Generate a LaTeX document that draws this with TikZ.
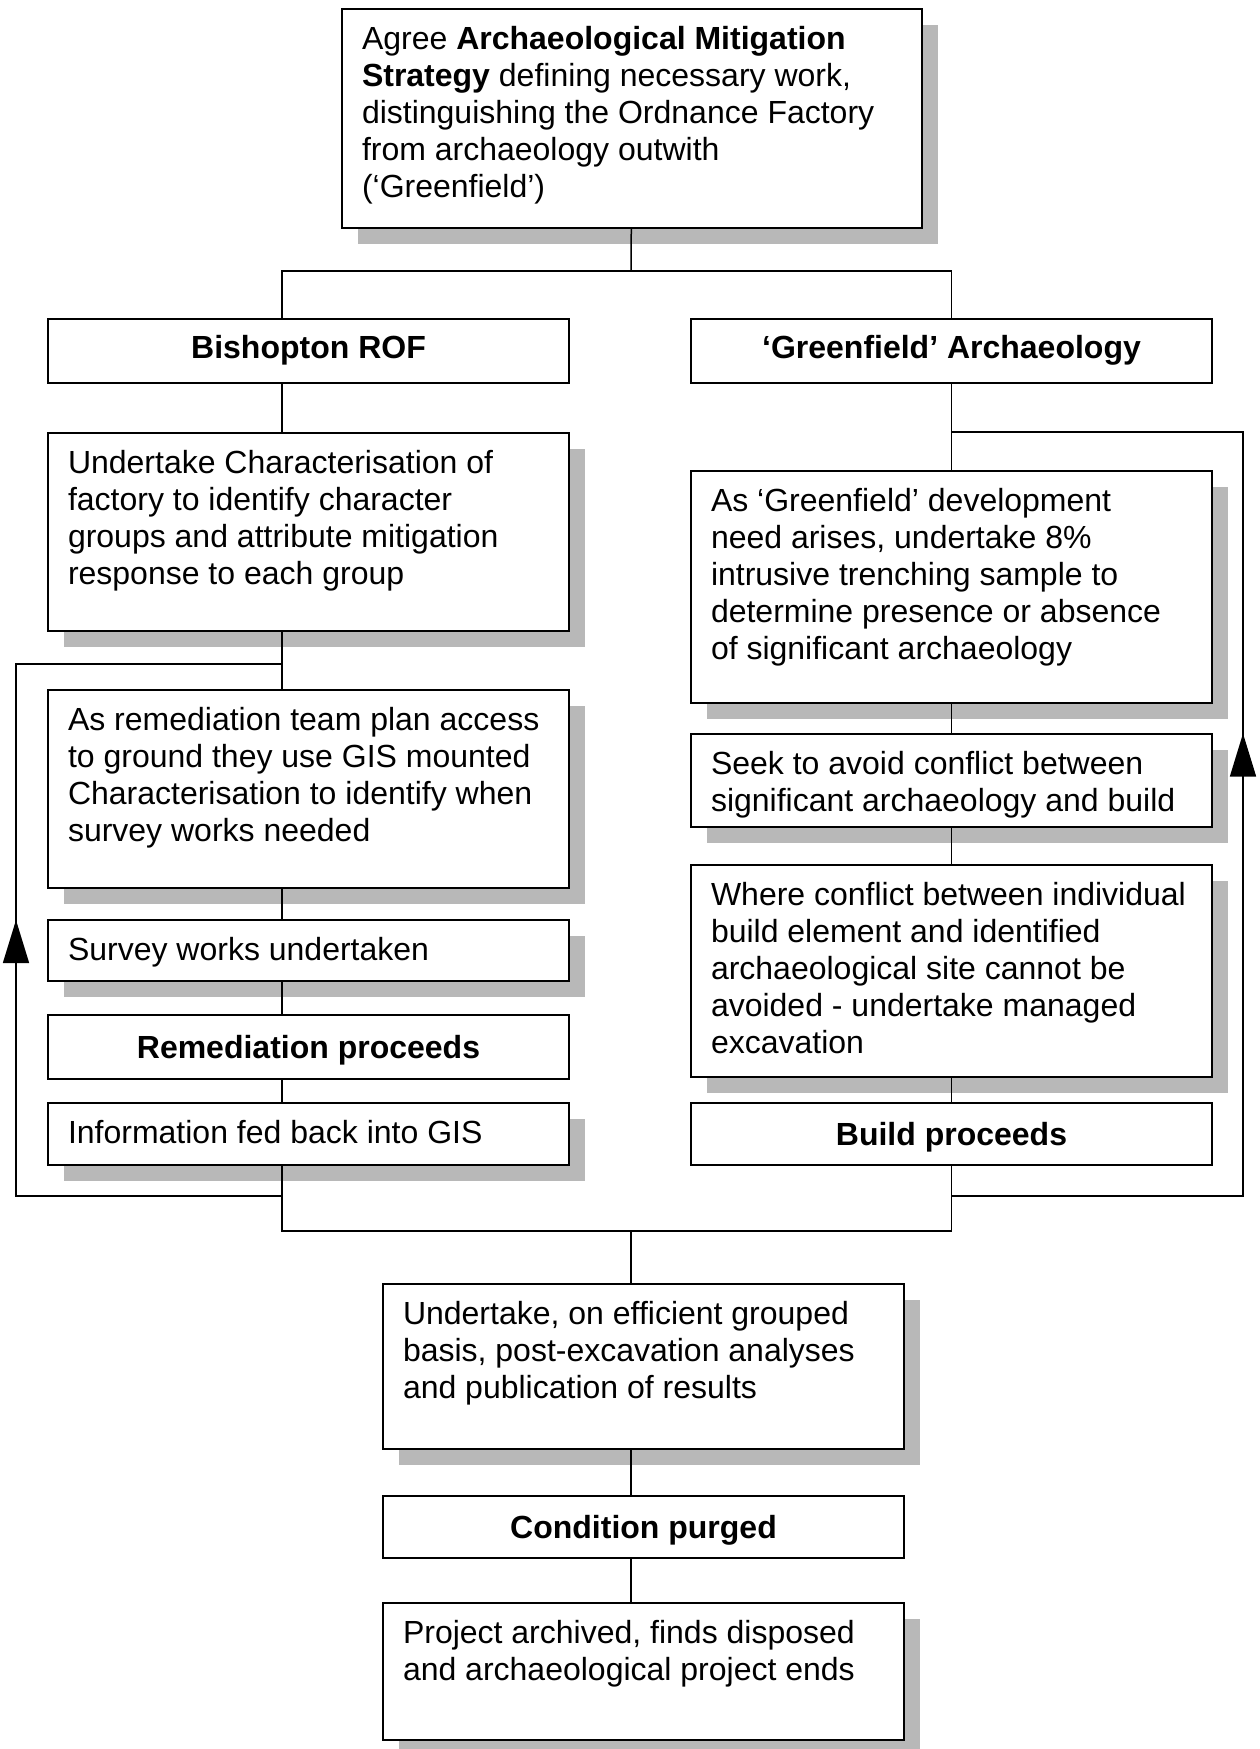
\documentclass[tikz,border=0pt]{standalone}
\usepackage{fontspec}
\setmainfont{Liberation Sans}
\usepackage{tikz}
\usetikzlibrary{arrows.meta,shadows,decorations.markings}

% top aligned text in a box of fixed height
\newcommand{\boxtext}[3][481pt]{%
  \parbox[t][\dimexpr#2pt-30pt\relax][t]{#1}{\begin{tabular}[t]{@{}l@{}}#3\end{tabular}}}

\begin{document}
\begin{tikzpicture}[
    x=1pt, y=-1pt,
    stepbox/.style={draw, line width=2pt, fill=white, anchor=north west,
              inner xsep=20pt, inner ysep=15pt,
              font=\fontsize{32}{37}\selectfont,
              drop shadow={shadow xshift=16pt, shadow yshift=-16pt,
                           fill=black!28, opacity=1}},
    headbox/.style={draw, line width=2pt, fill=white, anchor=north west,
              minimum width=521pt, minimum height=#1, inner sep=0pt,
              text height=23pt, text depth=0pt,
              font=\bfseries\fontsize{32}{37}\selectfont},
    headbox/.default=62pt,
    conn/.style={line width=1.5pt},
    uptip/.style={postaction={decorate}, decoration={markings,
              mark=at position #1 with {\arrow{Triangle[length=43pt,width=26pt]}}}}
]
\useasboundingbox (0,0) rectangle (1260,1749);

% strategy
\node[stepbox] (top) at (341,8) {\boxtext[540pt]{219}{Agree \textbf{Archaeological Mitigation}\\
  \textbf{Strategy} defining necessary work,\\ distinguishing the Ordnance Factory\\
  from archaeology outwith\\ (`Greenfield')}};

\node[headbox=64pt, text depth=9pt] (rof) at (47,318) {Bishopton ROF};
\node[headbox=64pt, text depth=9pt] (green) at (690,318) {`Greenfield' Archaeology};

% factory side
\node[stepbox] (char) at (47,432) {\boxtext{198}{Undertake Characterisation of\\
  factory to identify character\\ groups and attribute mitigation\\ response to each group}};
\node[stepbox] (remed) at (47,689) {\boxtext{198}{As remediation team plan access\\
  to ground they use GIS mounted\\ Characterisation to identify when\\ survey works needed}};
\node[stepbox] (survey) at (47,919) {\boxtext{61}{Survey works undertaken}};
\node[headbox=64pt] (proceeds) at (47,1014) {Remediation proceeds};
\node[stepbox] (info) at (47,1102) {\boxtext{62}{Information fed back into GIS}};

% greenfield side
\node[stepbox] (gdev) at (690,470) {\boxtext{232}{As `Greenfield' development\\
  need arises, undertake 8\%\\ intrusive trenching sample to\\
  determine presence or absence\\ of significant archaeology}};
\node[stepbox] (seek) at (690,733) {\boxtext{93}{Seek to avoid conflict between\\
  significant archaeology and build}};
\node[stepbox] (where) at (690,864) {\boxtext{212}{Where conflict between individual\\
  build element and identified\\ archaeological site cannot be\\
  avoided - undertake managed\\ excavation}};
\node[headbox] (build) at (690,1102) {Build proceeds};

% after both
\node[stepbox] (post) at (382,1283) {\boxtext{165}{Undertake, on efficient grouped\\
  basis, post-excavation analyses\\ and publication of results}};
\node[headbox] (cond) at (382,1495) {Condition purged};
\node[stepbox] (proj) at (382,1602) {\boxtext{137}{Project archived, finds disposed\\
  and archaeological project ends}};

\coordinate (lx) at (282,0);
\coordinate (split) at (631,271);
\coordinate (merge) at (631,1231);
\coordinate (loopL) at (16,1196);
\coordinate (topL) at (16,664);
\coordinate (loopR) at (1243,1196);
\coordinate (topR) at (1243,432);

\draw[conn] (top) -- (split);
\draw[conn] (rof.north -| lx) |- (split) -| (green);
\foreach \a/\b in {rof/char, char/remed, remed/survey, survey/proceeds, proceeds/info}
  \draw[conn] (\a.south -| lx) -- (\b.north -| lx);
\foreach \a/\b in {green/gdev, gdev/seek, seek/where, where/build}
  \draw[conn] (\a) -- (\b);
\draw[conn] (info.south -| lx) |- (merge) -| (build);
\draw[conn] (merge) -- (post.north -| merge);
\foreach \a/\b in {post/cond, cond/proj}
  \draw[conn] (\a.south -| merge) -- (\b.north -| merge);

% feedback loops
\draw[conn, uptip=542pt] (loopL -| lx) -- (loopL) -- (topL) -- (topL -| lx);
\draw[conn, uptip=754pt] (loopR -| build) -- (loopR) -- (topR) -- (topR -| green);
\end{tikzpicture}
\end{document}
